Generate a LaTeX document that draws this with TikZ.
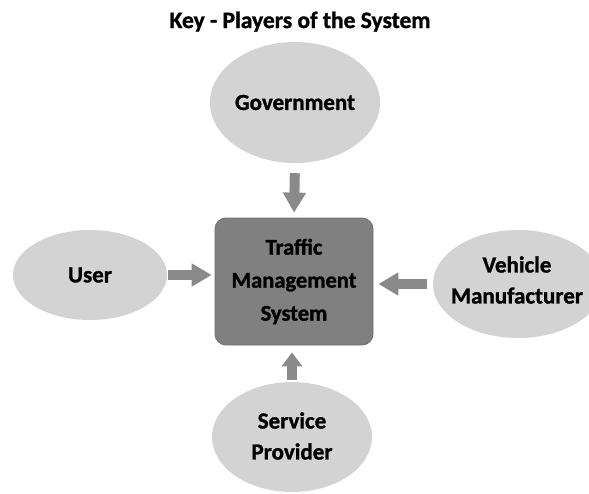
\documentclass[tikz,border=0pt]{standalone}
\usepackage{fontspec}
\setmainfont{Carlito}[BoldFeatures={FakeBold=1.2}]
\usetikzlibrary{shapes.geometric,arrows.meta}
\definecolor{ellfill}{HTML}{D3D3D3}
\definecolor{boxfill}{HTML}{808080}
\definecolor{boxedge}{HTML}{6E6E6E}
\definecolor{arrfill}{HTML}{8A8A8A}
\begin{document}
\begin{tikzpicture}[x=1pt,y=-1pt,
  player/.style={ellipse, fill=ellfill, draw=none, inner sep=0pt},
  ptext/.style={inner sep=0pt, align=center, font=\bfseries\fontsize{23}{31}\selectfont},
  central/.style={rectangle, rounded corners=11pt, fill=boxfill, draw=boxedge, line width=0.8pt,
    minimum width=158pt, minimum height=127pt, inner sep=0pt, align=center,
    font=\bfseries\fontsize{22.5}{33}\selectfont},
  blockarrow/.style={draw=arrfill, line width=10pt,
    -{Triangle[width=22pt,length=20pt]}, arrfill}
]
\useasboundingbox (0,0) rectangle (589,493);
\node[anchor=base, font=\bfseries\fontsize{23.5}{28}\selectfont] (title) at (300,28) {Key - Players of the System};
\node[central] (tms) at (294,281.5) {Traffic\\Management\\System};
\node[player, minimum width=170pt, minimum height=121pt,
  label={[ptext]center:Government}] (gov) at (295,102.5) {};
\node[player, minimum width=154pt, minimum height=90pt,
  label={[ptext]center:User}] (user) at (90,275) {};
\node[player, minimum width=170pt, minimum height=108pt,
  label={[ptext, xshift=-1pt, yshift=4pt]center:{Vehicle\\Manufacturer}}] (veh) at (518,284) {};
\node[player, minimum width=160pt, minimum height=110pt,
  label={[ptext, yshift=1pt]center:{Service\\Provider}}] (serv) at (292,437) {};
\draw[blockarrow, shorten <=10pt, shorten >=5pt] (gov.south) -- (tms.north);
\draw[blockarrow, shorten <=1pt, shorten >=3pt] (user.east) -- (user.east -| tms.west);
\draw[blockarrow, shorten <=6pt, shorten >=5pt] (veh.west) -- (veh.west -| tms.east);
\draw[blockarrow, -{Triangle[width=20pt,length=14pt]}, shorten <=2pt, shorten >=7pt] (serv.north) -- (serv.north |- tms.south);
\end{tikzpicture}
\end{document}
